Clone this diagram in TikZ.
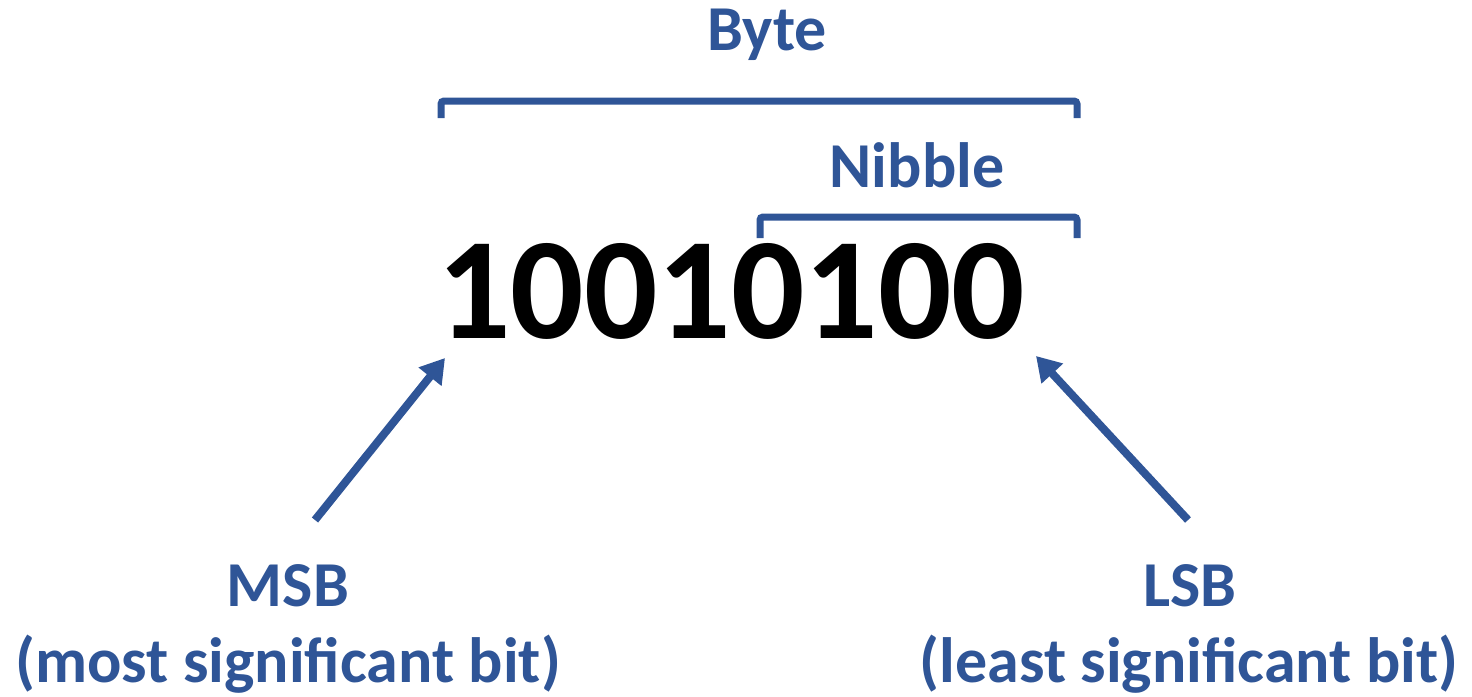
\documentclass[tikz,border=0pt]{standalone}
\usepackage{fontspec}
\setmainfont{Carlito}
\usetikzlibrary{arrows.meta}
\definecolor{ablue}{RGB}{47,85,151}
\begin{document}
\begin{tikzpicture}[x=1pt,y=-1pt,
  lbl/.style={text=ablue, font=\bfseries\fontsize{64}{72}\selectfont, inner sep=0pt, anchor=base},
  brk/.style={draw=ablue, line width=7pt, rounded corners=3pt},
  arr/.style={draw=ablue, line width=8pt, -{Triangle[length=24pt,width=28pt]}}]
\useasboundingbox (0,0) rectangle (1472,696);
\node[lbl] (byte) at (767,50) {Byte};
\node[lbl] (nibble) at (917,187) {Nibble};
\node[inner sep=0pt, anchor=base, font=\bfseries\fontsize{145}{160}\selectfont] (num) at (731,338) {10010100};
\draw[brk] (441,118) -- (441,101) -- (1077,101) -- (1077,118);
\draw[brk] (760,238) -- (760,217) -- (1077,217) -- (1077,238);
\node[lbl] (msb) at (288,606) {MSB};
\node[lbl] (msbl) at (288,682) {(most significant bit)};
\node[lbl] (lsb) at (1190,606) {LSB};
\node[lbl] (lsbl) at (1189,682) {(least significant bit)};
\coordinate (ms) at (315,520);
\coordinate (mt) at (445,358);
\coordinate (ls) at (1188,520);
\coordinate (lt) at (1036,356);
\draw[arr] (ms) -- (mt);
\draw[arr] (ls) -- (lt);
\end{tikzpicture}
\end{document}
